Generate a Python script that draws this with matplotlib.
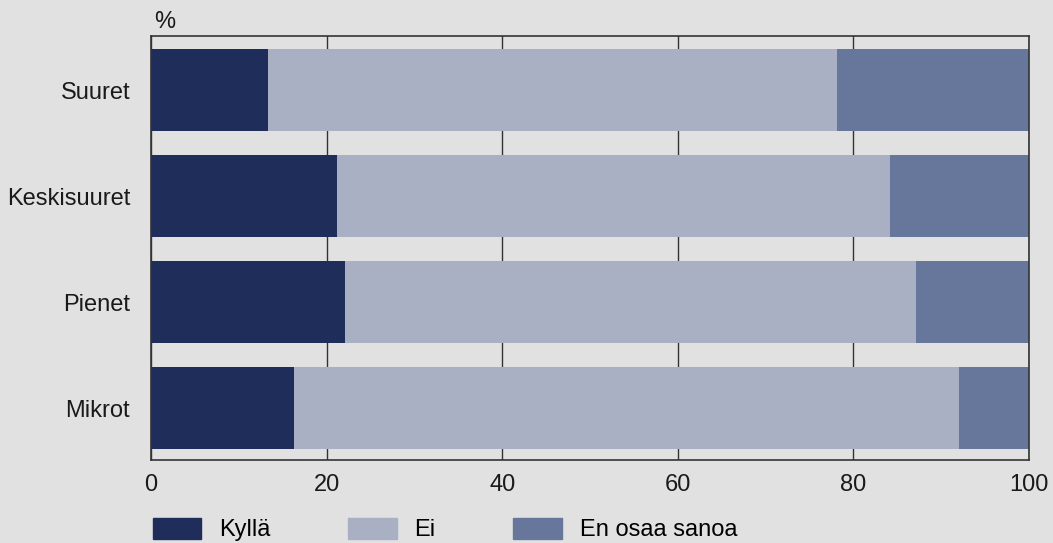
import numpy as np
import matplotlib.pyplot as plt
from matplotlib.patches import Patch

plt.rcParams['font.family'] = ['Liberation Sans', 'DejaVu Sans']

# data (percent)
groups = ["Suuret", "Keskisuuret", "Pienet", "Mikrot"]
kylla = [13.3, 21.2, 22.1, 16.3]
ei = [64.8, 63.0, 65.0, 75.7]
eos = [21.9, 15.8, 12.9, 8.0]
series_names = ["Kyllä", "Ei", "En osaa sanoa"]
colors = ["#1f2d5b", "#aab0c4", "#67779b"]

bg = "#e1e1e1"
fs = 17

fig = plt.figure(figsize=(10.53, 5.43), dpi=100, facecolor=bg)
ax = fig.add_axes([0.1434, 0.1529, 0.8338, 0.7808], facecolor=bg)

y = np.arange(len(groups))[::-1]
left = np.zeros(len(groups))
for vals, name, c in zip([kylla, ei, eos], series_names, colors):
    ax.barh(y, vals, left=left, height=0.77, color=c, label=name, zorder=2)
    left += np.array(vals)

ax.set_xlim(0, 100)
ax.set_ylim(-0.49, 3.51)
ax.set_xticks(range(0, 101, 20))
ax.set_yticks(y)
ax.set_yticklabels(groups)
ax.tick_params(axis="both", length=0, labelsize=fs, colors="#1a1a1a")
ax.tick_params(axis="x", pad=10)
ax.tick_params(axis="y", pad=15)
ax.grid(axis="x", color="#333333", linewidth=1, zorder=1)
ax.set_axisbelow(True)
for s in ax.spines.values():
    s.set_color("#333333")
    s.set_linewidth(1.2)

fig.text(0.146, 0.94, "%", fontsize=fs, color="#1a1a1a", va="bottom")

handles = [Patch(color=c) for c in colors]
fig.legend(handles, series_names, loc="lower left", bbox_to_anchor=(0.125, -0.036),
           ncol=3, frameon=False, fontsize=fs, handlelength=2.05, handleheight=1.0,
           handletextpad=0.75, columnspacing=3.3)

fig.savefig("out.png", dpi=100, facecolor=bg)
